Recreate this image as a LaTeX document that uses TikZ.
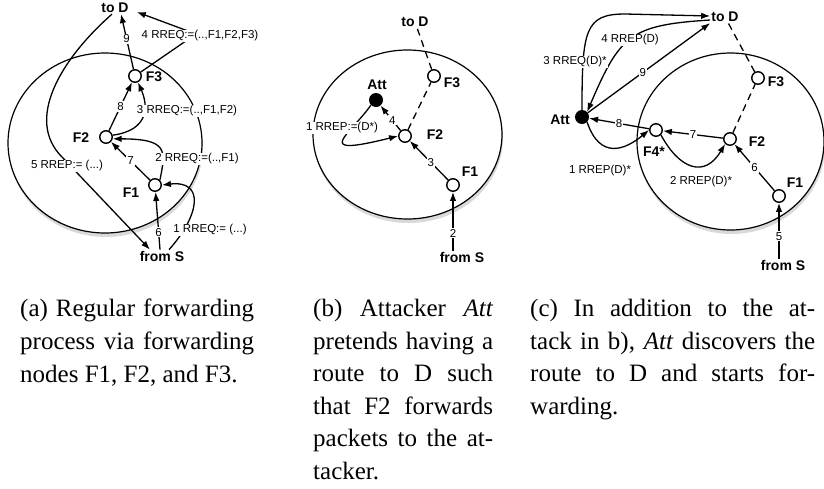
\documentclass[tikz,border=0pt]{standalone}
\usepackage{fontspec}
\setmainfont{Liberation Serif}
\setsansfont{Liberation Sans}
\usetikzlibrary{arrows.meta,shadows}

\tikzset{
  fwd/.style={circle,draw,line width=1.4pt,fill=white,minimum size=12.5pt,inner sep=0pt},
  attk/.style={circle,fill=black,minimum size=14pt,inner sep=0pt},
  tag/.style={font=\sffamily\bfseries\fontsize{14}{16}\selectfont,inner sep=1pt},
  msg/.style={font=\sffamily\fontsize{11.5}{13}\selectfont,fill=white,inner sep=1pt},
  hop/.style={-{Latex[length=9pt,width=6.5pt]},line width=1.3pt},
  link/.style={line width=1.3pt,dash pattern=on 7pt off 5pt},
  area/.style={draw,fill=white,line width=1.2pt,
    drop shadow={opacity=0.3,shadow xshift=1pt,shadow yshift=-4pt}},
  capt/.style={anchor=north west,inner sep=0pt,align=justify,
    font=\fontsize{25}{32.6}\selectfont}
}

\begin{document}
\begin{tikzpicture}[x=1pt,y=-1pt]
\useasboundingbox (0,0) rectangle (824,488);

% (a) regular forwarding
\draw[area] (105,143) ellipse [x radius=97pt, y radius=90pt];
\node[tag] (toDa) at (115,8) {to D};
\node[tag] (fromSa) at (162,256) {from S};
\node[fwd] (F3a) at (135,76) {};
\node[fwd] (F2a) at (106,137) {};
\node[fwd] (F1a) at (155,185) {};
\node[tag] (F3a-t) at (154,77) {F3};
\node[tag] (F2a-t) at (81,138) {F2};
\node[tag] (F1a-t) at (131,193) {F1};

\path[hop]
  ([xshift=-2pt]fromSa.north) edge node[msg,pos=.3] {6} (F1a)
  (F1a) edge node[msg] {7} (F2a)
  (F2a) edge node[msg] {8} (F3a)
  (F3a) edge node[msg,pos=.55] {9} ([xshift=6pt]toDa.south);
\draw[hop] ([xshift=7pt]fromSa.north) .. controls (200,215) and (205,180) .. (F1a.east);
\draw[hop] (F1a.north east) .. controls (166,150) and (168,139) .. (F2a.-15);
\draw[hop] (F2a.15) .. controls (150,130) and (148,105) .. (F3a.-65);
\draw[hop] (F3a) -- (196,34) -- ([xshift=7pt,yshift=-4pt]toDa.east);
\draw[hop] ([xshift=-3pt]toDa.south) .. controls (60,60) and (25,120) .. (62,157)
  -- ([xshift=-12pt]fromSa.north);
\node[msg] (m1a) at (210,230) {1 RREQ:= (...)};
\node[msg] (m2a) at (197,159) {2 RREQ:=(..,F1)};
\node[msg] (m3a) at (187,111) {3 RREQ:=(..,F1,F2)};
\node[msg] (m4a) at (200,36) {4 RREQ:=(..,F1,F2,F3)};
\node[msg] (m5a) at (67,166) {5 RREP:= (...)};

% (b) attacker fakes a route
\draw[area] (407.5,134.5) ellipse [x radius=94.5pt, y radius=84.5pt];
\node[tag] (toDb) at (415,22) {to D};
\node[tag] (fromSb) at (462,257) {from S};
\node[fwd] (F3b) at (434,76) {};
\node[fwd] (F2b) at (405,136) {};
\node[fwd] (F1b) at (453,185) {};
\node[attk] (Attb) at (376,100) {};
\node[tag] (F3b-t) at (452,83) {F3};
\node[tag] (F2b-t) at (435,135) {F2};
\node[tag] (F1b-t) at (470,172) {F1};
\node[tag] (Attb-t) at (377,85) {Att};

\path[hop]
  ([xshift=-9pt]fromSb.north) edge node[msg,pos=.3] {2} (F1b)
  (F1b) edge node[msg,pos=.45] {3} (F2b)
  (F2b) edge node[msg,pos=.41] {4} (Attb);
\draw[link] (F2b) -- (F3b);
\draw[link] (F3b) -- (toDb);
\draw[hop] (Attb.south west) .. controls (350,135) and (310,158) .. (F2b.west);
\node[msg] (m1b) at (342,128) {1 RREP:=(D*)};

% (c) attacker also forwards
\draw[area] (730.5,141.5) ellipse [x radius=93.5pt, y radius=88.5pt];
\node[tag] (toDc) at (725,17) {to D};
\node[tag] (fromSc) at (783,265) {from S};
\node[fwd] (F3c) at (758,78) {};
\node[fwd] (F2c) at (730,139) {};
\node[fwd] (F1c) at (779,196) {};
\node[fwd] (F4c) at (656,130) {};
\node[attk] (Attc) at (582,117) {};
\node[tag] (F3c-t) at (776,82) {F3};
\node[tag] (F2c-t) at (757,142) {F2};
\node[tag] (F1c-t) at (795,183) {F1};
\node[tag] (F4c-t) at (654,152) {F4*};
\node[tag] (Attc-t) at (560,120) {Att};

\path[hop]
  ([xshift=-4pt]fromSc.north) edge node[msg,pos=.4] {5} (F1c)
  (F1c) edge node[msg] {6} (F2c)
  (F2c) edge node[msg] {7} (F4c)
  (F4c) edge node[msg] {8} (Attc)
  (Attc) edge node[msg,pos=.45] {9} (toDc.south west);
\draw[link] (F2c) -- (F3c);
\draw[link] (F3c) -- (toDc);
\draw[hop] (Attc.south east) .. controls (600,160) and (625,150) .. (F4c.west);
\draw[hop] (F4c.south east) .. controls (680,170) and (705,178) .. (F2c.south west);
\draw[hop] (Attc.north) .. controls (582,30) and (585,14) .. (625,14) -- ([yshift=1pt]toDc.west);
\draw[hop] ([yshift=-3pt]toDc.west) .. controls (630,25) and (620,35) .. (Attc.north east);
\node[msg] (m1c) at (600,171) {1 RREP(D)*};
\node[msg] (m2c) at (701,182) {2 RREP(D)*};
\node[msg] (m3c) at (575,62) {3 RREQ(D)*};
\node[msg] (m4c) at (630,40) {4 RREP(D)};

% captions
\node[capt,text width=234pt] (capa) at (20,299)
  {(a) Regular forwarding\linebreak process via forwarding\linebreak nodes F1, F2, and F3.};
\node[capt,text width=180pt] (capb) at (313,299)
  {(b) Attacker \textit{Att}\linebreak pretends having a\linebreak route to D such\linebreak
   that F2 forwards\linebreak packets to the at-\linebreak tacker.};
\node[capt,text width=285pt] (capc) at (530,299)
  {(c) In addition to the at-\linebreak tack in b), \textit{Att} discovers the\linebreak
   route to D and starts for-\linebreak warding.};
\end{tikzpicture}
\end{document}
